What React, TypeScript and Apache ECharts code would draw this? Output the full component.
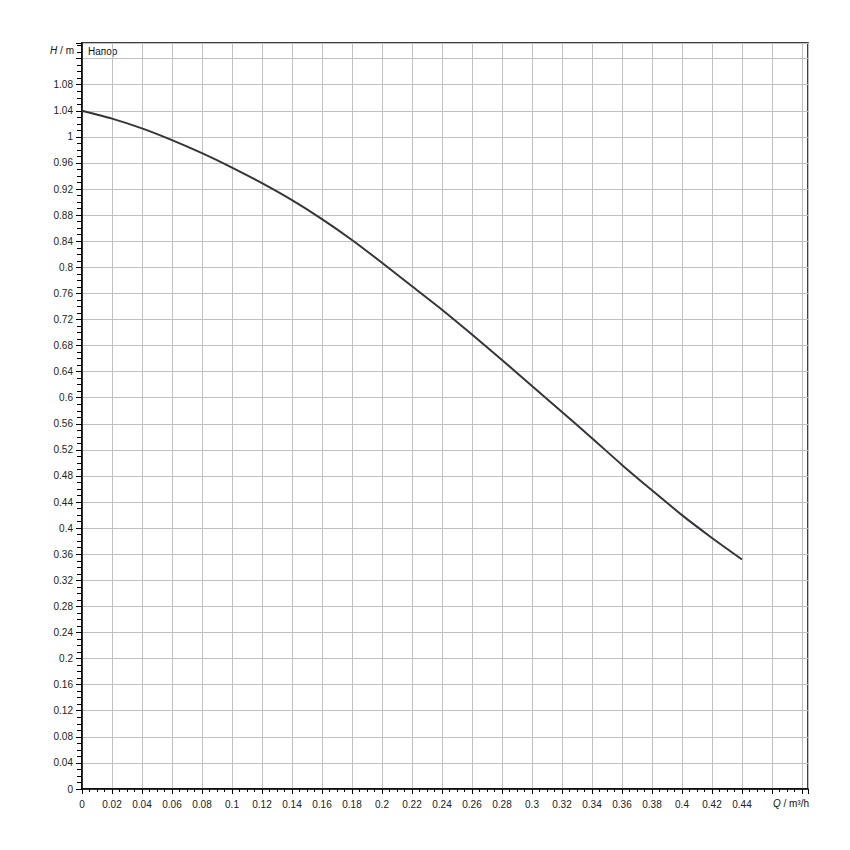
import React, { useEffect, useRef } from "react";
import * as echarts from "echarts";

const flowQ: number[] = [
  0, 0.02, 0.04, 0.06, 0.08, 0.1, 0.12, 0.14, 0.16, 0.18, 0.2, 0.22, 0.24,
  0.26, 0.28, 0.3, 0.32, 0.34, 0.36, 0.38, 0.4, 0.42, 0.44,
];
const headH: number[] = [
  1.04, 1.028, 1.013, 0.995, 0.975, 0.953, 0.929, 0.903, 0.874, 0.842, 0.807,
  0.771, 0.735, 0.697, 0.658, 0.618, 0.578, 0.538, 0.497, 0.458, 0.42, 0.385,
  0.352,
];
const seriesName = "Напор";
const xMax = 0.484;
const yMax = 1.144;

const FONT = "'Liberation Sans', Arial, sans-serif";

export default function App() {
  const ref = useRef<HTMLDivElement>(null);
  useEffect(() => {
    if (!ref.current) return;
    const chart = echarts.init(ref.current, undefined, { renderer: "svg" });
    const fmt = (v: number) => String(parseFloat(v.toFixed(3)));
    chart.setOption({
      animation: false,
      backgroundColor: "#ffffff",
      textStyle: { fontFamily: FONT },
      grid: {
        left: 82,
        right: 42,
        top: 43,
        bottom: 61,
        show: true,
        borderColor: "#000000",
        borderWidth: 1.5,
        backgroundColor: "transparent",
      },
      xAxis: {
        type: "value",
        min: 0,
        max: xMax,
        interval: 0.02,
        axisLine: { show: true, onZero: false, lineStyle: { color: "#000", width: 1.5 } },
        axisTick: { show: true, length: 5, lineStyle: { color: "#000", width: 1 } },
        minorTick: { show: true, splitNumber: 4, length: 3, lineStyle: { color: "#000", width: 1 } },
        splitLine: { show: true, lineStyle: { color: "#c0c0c0", width: 1 } },
        axisLabel: {
          margin: 10,
          fontSize: 10,
          color: "#222",
          fontFamily: FONT,
          showMaxLabel: false,
          formatter: (v: number) => (v > 0.45 ? "" : fmt(v)),
        },
      },
      yAxis: {
        type: "value",
        min: 0,
        max: yMax,
        interval: 0.04,
        axisLine: { show: true, onZero: false, lineStyle: { color: "#000", width: 1.5 } },
        axisTick: { show: true, length: 6, lineStyle: { color: "#000", width: 1 } },
        minorTick: { show: true, splitNumber: 4, length: 5, lineStyle: { color: "#000", width: 1 } },
        splitLine: { show: true, lineStyle: { color: "#c0c0c0", width: 1 } },
        axisLabel: {
          margin: 9,
          fontSize: 10,
          color: "#222",
          fontFamily: FONT,
          showMaxLabel: false,
          formatter: (v: number) => (v > 1.1 ? "" : fmt(v)),
        },
      },
      graphic: [
        {
          type: "text",
          left: 88,
          top: 46,
          style: { text: seriesName, font: `10px ${FONT}`, fill: "#111" },
        },
        {
          type: "text",
          right: 850 - 74,
          top: 45,
          style: {
            text: "{i|H} / m",
            font: `10px ${FONT}`,
            fill: "#111",
            rich: { i: { fontStyle: "italic", fontSize: 10, fontFamily: FONT, fill: "#111" } },
          },
        },
        {
          type: "text",
          right: 850 - 809,
          top: 798,
          style: {
            text: "{i|Q} / m³/h",
            font: `10px ${FONT}`,
            fill: "#111",
            rich: { i: { fontStyle: "italic", fontSize: 10, fontFamily: FONT, fill: "#111" } },
          },
        },
      ],
      series: [
        {
          name: seriesName,
          type: "line",
          data: flowQ.map((q, i) => [q, headH[i]]),
          showSymbol: false,
          smooth: 0.2,
          lineStyle: { color: "#333639", width: 2 },
        },
      ],
    });
    return () => chart.dispose();
  }, []);
  return (
    <div
      ref={ref}
      style={{ position: "absolute", left: 0, top: 0, width: 850, height: 850 }}
    />
  );
}
